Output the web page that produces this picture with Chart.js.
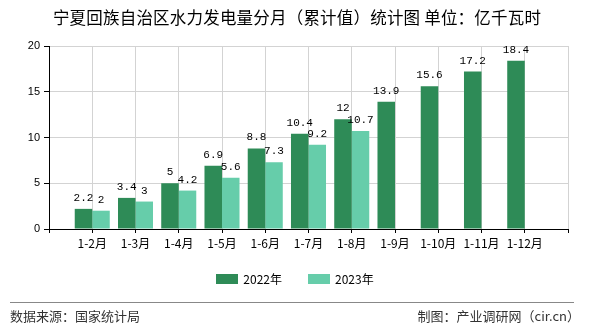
<!DOCTYPE html>
<html><head><meta charset="utf-8">
<script src="https://cdn.jsdelivr.net/npm/chart.js@4"></script>
<style>
html,body{margin:0;padding:0;background:#fff;}
#wrap{position:relative;width:590px;height:330px;overflow:hidden;font-family:"Noto Sans CJK SC",sans-serif;}
#c{position:absolute;left:0;top:0;}
#title{position:absolute;left:0;width:594px;top:6px;text-align:center;font-size:16.5px;letter-spacing:0.2px;color:#000;line-height:22px;white-space:nowrap;}
#legend{position:absolute;left:0;width:590px;top:270px;display:flex;justify-content:center;font-size:12px;line-height:18px;color:#000;}
.li{display:flex;align-items:center;margin:0 13px;}
.sw{width:22px;height:10px;margin-right:5px;}
#line{position:absolute;left:10px;width:564px;top:302px;height:0;border-top:1px solid #888;}
#srcL{position:absolute;left:10px;top:307px;font-size:13px;color:#333;line-height:18px;}
#srcR{position:absolute;right:10px;top:307px;font-size:13px;color:#333;line-height:18px;}
</style></head>
<body><div id="wrap">
<canvas id="c" width="590" height="330"></canvas>
<div id="title">宁夏回族自治区水力发电量分月（累计值）统计图 单位：亿千瓦时</div>
<div id="legend"></div>
<div id="line"></div>
<div id="srcL">数据来源：国家统计局</div>
<div id="srcR">制图：产业调研网（cir.cn）</div>
</div>
<script>
const categories = ['', '1-2月','1-3月','1-4月','1-5月','1-6月','1-7月','1-8月','1-9月','1-10月','1-11月','1-12月', ''];
const seriesNames = ['2022年','2023年'];
const values2022 = [null, 2.2, 3.4, 5, 6.9, 8.8, 10.4, 12, 13.9, 15.6, 17.2, 18.4, null];
const values2023 = [null, 2, 3, 4.2, 5.6, 7.3, 9.2, 10.7, null, null, null, null, null];
const colors = ['#2E8B57', '#66CDAA'];
const yTicks = [0, 5, 10, 15, 20];

const leg = document.getElementById('legend');
seriesNames.forEach((n,i)=>{
  const d=document.createElement('div');d.className='li';
  const s=document.createElement('div');s.className='sw';s.style.background=colors[i];
  const t=document.createElement('span');t.textContent=n;
  d.appendChild(s);d.appendChild(t);leg.appendChild(d);
});

const labelPlugin = {
  id:'vals',
  afterDatasetsDraw(chart){
    const ctx=chart.ctx;
    ctx.save();
    ctx.font='11px "Liberation Mono", monospace';
    ctx.fillStyle='#000';
    ctx.textAlign='center';
    ctx.textBaseline='alphabetic';
    chart.data.datasets.forEach((ds,di)=>{
      const meta=chart.getDatasetMeta(di);
      meta.data.forEach((el,i)=>{
        const v=ds.data[i];
        if(v==null) return;
        ctx.fillText(String(v), el.x, el.y-8);
      });
    });
    ctx.restore();
  }
};

new Chart(document.getElementById('c'), {
  type:'bar',
  data:{
    labels:categories,
    datasets:[
      {label:seriesNames[0], data:values2022, backgroundColor:colors[0], categoryPercentage:0.81, barPercentage:1.0},
      {label:seriesNames[1], data:values2023, backgroundColor:colors[1], categoryPercentage:0.81, barPercentage:1.0}
    ]
  },
  options:{
    responsive:false,
    animation:false,
    devicePixelRatio:1,
    layout:{padding:{left:0, top:46, right:22, bottom:81}},
    plugins:{legend:{display:false}, title:{display:false}, tooltip:{enabled:false}},
    scales:{
      x:{
        offset:false,
        grid:{offset:false, color:'#d3d3d3', tickColor:'#000', tickLength:4, drawTicks:true},
        border:{color:'#000', width:1},
        ticks:{color:'#000', font:{family:'"Noto Sans CJK SC"', size:12}, padding:3, maxRotation:0, autoSkip:false},
        afterFit(s){ s.height=20; }
      },
      y:{
        min:0, max:20,
        afterBuildTicks(s){ s.ticks = yTicks.map(v=>({value:v})); },
        grid:{color:'#d3d3d3', tickColor:'#000', tickLength:5},
        border:{color:'#000', width:1},
        ticks:{color:'#000', font:{family:'"Liberation Sans"', size:11}, padding:4},
        afterFit(s){ s.width=49; }
      }
    }
  },
  plugins:[labelPlugin]
});
</script>
</body></html>
